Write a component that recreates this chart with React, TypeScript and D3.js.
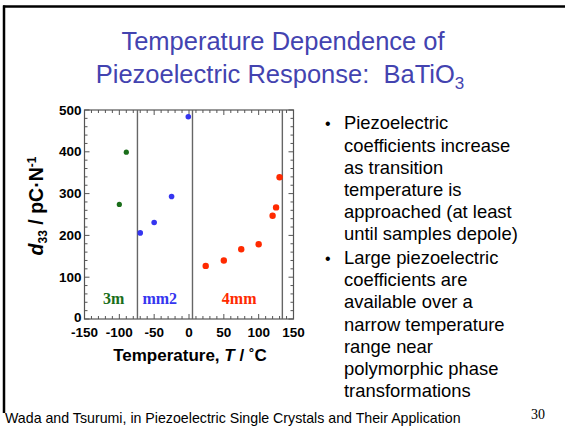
import React from "react";
import * as d3 from "d3";

const titleLines = ["Temperature Dependence of", "Piezoelectric Response:  BaTiO"];
const phase3mT = [-100, -90];
const phase3mD = [274, 399];
const phaseMm2T = [-70, -50, -25, -1];
const phaseMm2D = [206, 231, 293, 484];
const phase4mmT = [24, 50, 75, 100, 120, 125, 130];
const phase4mmD = [127, 140, 167, 179, 247, 267, 339];
const transitionT = [-74, 5, 134];
const phaseNames = ["3m", "mm2", "4mm"];
const phaseLabelT = [-108, -42, 72];
const phaseColors = ["#1a6e1a", "#3535f0", "#ff2a00"];
const xTicks = [-150, -100, -50, 0, 50, 100, 150];
const yTicks = [0, 100, 200, 300, 400, 500];
const bulletLines = [
  ["Piezoelectric", "coefficients increase", "as transition", "temperature is", "approached (at least", "until samples depole)"],
  ["Large piezoelectric", "coefficients are", "available over a", "narrow temperature", "range near", "polymorphic phase", "transformations"],
];
const footer = "Wada and Tsurumi, in Piezoelectric Single Crystals and Their Application";
const pageNum = "30";

export default function App() {
  const W = 565, H = 428;
  const x = d3.scaleLinear().domain([-150, 150]).range([84.5, 293.5]);
  const y = d3.scaleLinear().domain([0, 500]).range([319, 110]);
  const [x0, x1] = x.range();
  const [y0, y1] = y.range();
  const minorX = d3.range(-150, 151, 10);
  const minorY = d3.range(0, 501, 20);
  const axisColor = "#555";
  const sans = "'Liberation Sans', Arial, Helvetica, sans-serif";
  const serif = "'Liberation Serif', 'Times New Roman', serif";
  const series = [
    { t: phase3mT, d: phase3mD, c: phaseColors[0], r: 2.6 },
    { t: phaseMm2T, d: phaseMm2D, c: phaseColors[1], r: 2.8 },
    { t: phase4mmT, d: phase4mmD, c: phaseColors[2], r: 3.2 },
  ];
  let lineIdx = 0;
  const bulletEls: any[] = [];
  bulletLines.forEach((para, pi) => {
    para.forEach((ln, li) => {
      const by = 129.3 + lineIdx * 22.2 + pi * 1.4;
      if (li === 0)
        bulletEls.push(
          <text key={`b${pi}`} x={325} y={by} fontSize={16} fontFamily={sans}>•</text>
        );
      bulletEls.push(
        <text key={`l${pi}-${li}`} x={344} y={by} fontSize={18.4} fontFamily={sans}>{ln}</text>
      );
      lineIdx++;
    });
  });
  return (
    <svg width={W} height={H} style={{ position: "absolute", left: 0, top: 0, background: "#fff" }}>
      <rect width={W} height={H} fill="#fff" />
      <line x1={4} x2={4} y1={5.5} y2={413} stroke="#000" strokeWidth={2.5} />
      <line x1={3} x2={W} y1={6.5} y2={6.5} stroke="#000" strokeWidth={2.5} />
      {/* title */}
      <text x={283} y={49.5} textAnchor="middle" fontSize={25.5} fontFamily={sans} fill="#4343b0">{titleLines[0]}</text>
      <text x={280} y={82.5} textAnchor="middle" fontSize={25.5} fontFamily={sans} fill="#4343b0" style={{ whiteSpace: "pre" }}>
        {titleLines[1]}
        <tspan fontSize={17} dy={6}>3</tspan>
      </text>
      {/* plot frame */}
      <rect x={x0} y={y1} width={x1 - x0} height={y0 - y1} fill="none" stroke={axisColor} strokeWidth={1.2} />
      {minorX.map((v) => {
        const len = v % 50 === 0 ? 5 : 3;
        return (
          <g key={`mx${v}`} stroke={axisColor} strokeWidth={1}>
            <line x1={x(v)} x2={x(v)} y1={y0} y2={y0 - len} />
            <line x1={x(v)} x2={x(v)} y1={y1} y2={y1 + len} />
          </g>
        );
      })}
      {minorY.map((v) => {
        const len = v % 100 === 0 ? 5 : 3;
        return (
          <g key={`my${v}`} stroke={axisColor} strokeWidth={1}>
            <line x1={x0} x2={x0 + len} y1={y(v)} y2={y(v)} />
            <line x1={x1} x2={x1 - len} y1={y(v)} y2={y(v)} />
          </g>
        );
      })}
      {transitionT.map((t) => (
        <line key={`tr${t}`} x1={x(t)} x2={x(t)} y1={y0} y2={y1} stroke="#666" strokeWidth={1.4} />
      ))}
      {xTicks.map((v) => (
        <text key={`xt${v}`} x={x(v)} y={337} textAnchor="middle" fontSize={13.5} fontWeight="bold" fontFamily={sans}>
          {v}
        </text>
      ))}
      {yTicks.map((v) => (
        <text key={`yt${v}`} x={81.5} y={y(v) + (v === 0 ? 2.5 : 4.5)} textAnchor="end" fontSize={13.5} fontWeight="bold" fontFamily={sans}>
          {v}
        </text>
      ))}
      {series.map((s, si) =>
        s.t.map((t, i) => <circle key={`p${si}-${i}`} cx={x(t)} cy={y(s.d[i])} r={s.r} fill={s.c} />)
      )}
      {phaseNames.map((n, i) => (
        <text key={n} x={x(phaseLabelT[i])} y={y(36)} textAnchor="middle" fontSize={16} fontWeight="bold" fontFamily={serif} fill={phaseColors[i]}>
          {n}
        </text>
      ))}
      <text transform="translate(43,206) rotate(-90)" textAnchor="middle" fontSize={19.5} fontWeight="bold" fontFamily={sans}>
        <tspan fontStyle="italic">d</tspan>
        <tspan fontSize={12} dy={4}>33</tspan>
        <tspan dy={-4}> / pC·N</tspan>
        <tspan fontSize={12} dy={-7}>-1</tspan>
      </text>
      <text x={190} y={361} textAnchor="middle" fontSize={17} fontWeight="bold" fontFamily={sans}>
        Temperature, <tspan fontStyle="italic">T</tspan> / ˚C
      </text>
      {bulletEls}
      <text x={5} y={423} fontSize={14.2} fontFamily={sans}>{footer}</text>
      <text x={531} y={419} fontSize={14} fontFamily={serif}>{pageNum}</text>
    </svg>
  );
}
